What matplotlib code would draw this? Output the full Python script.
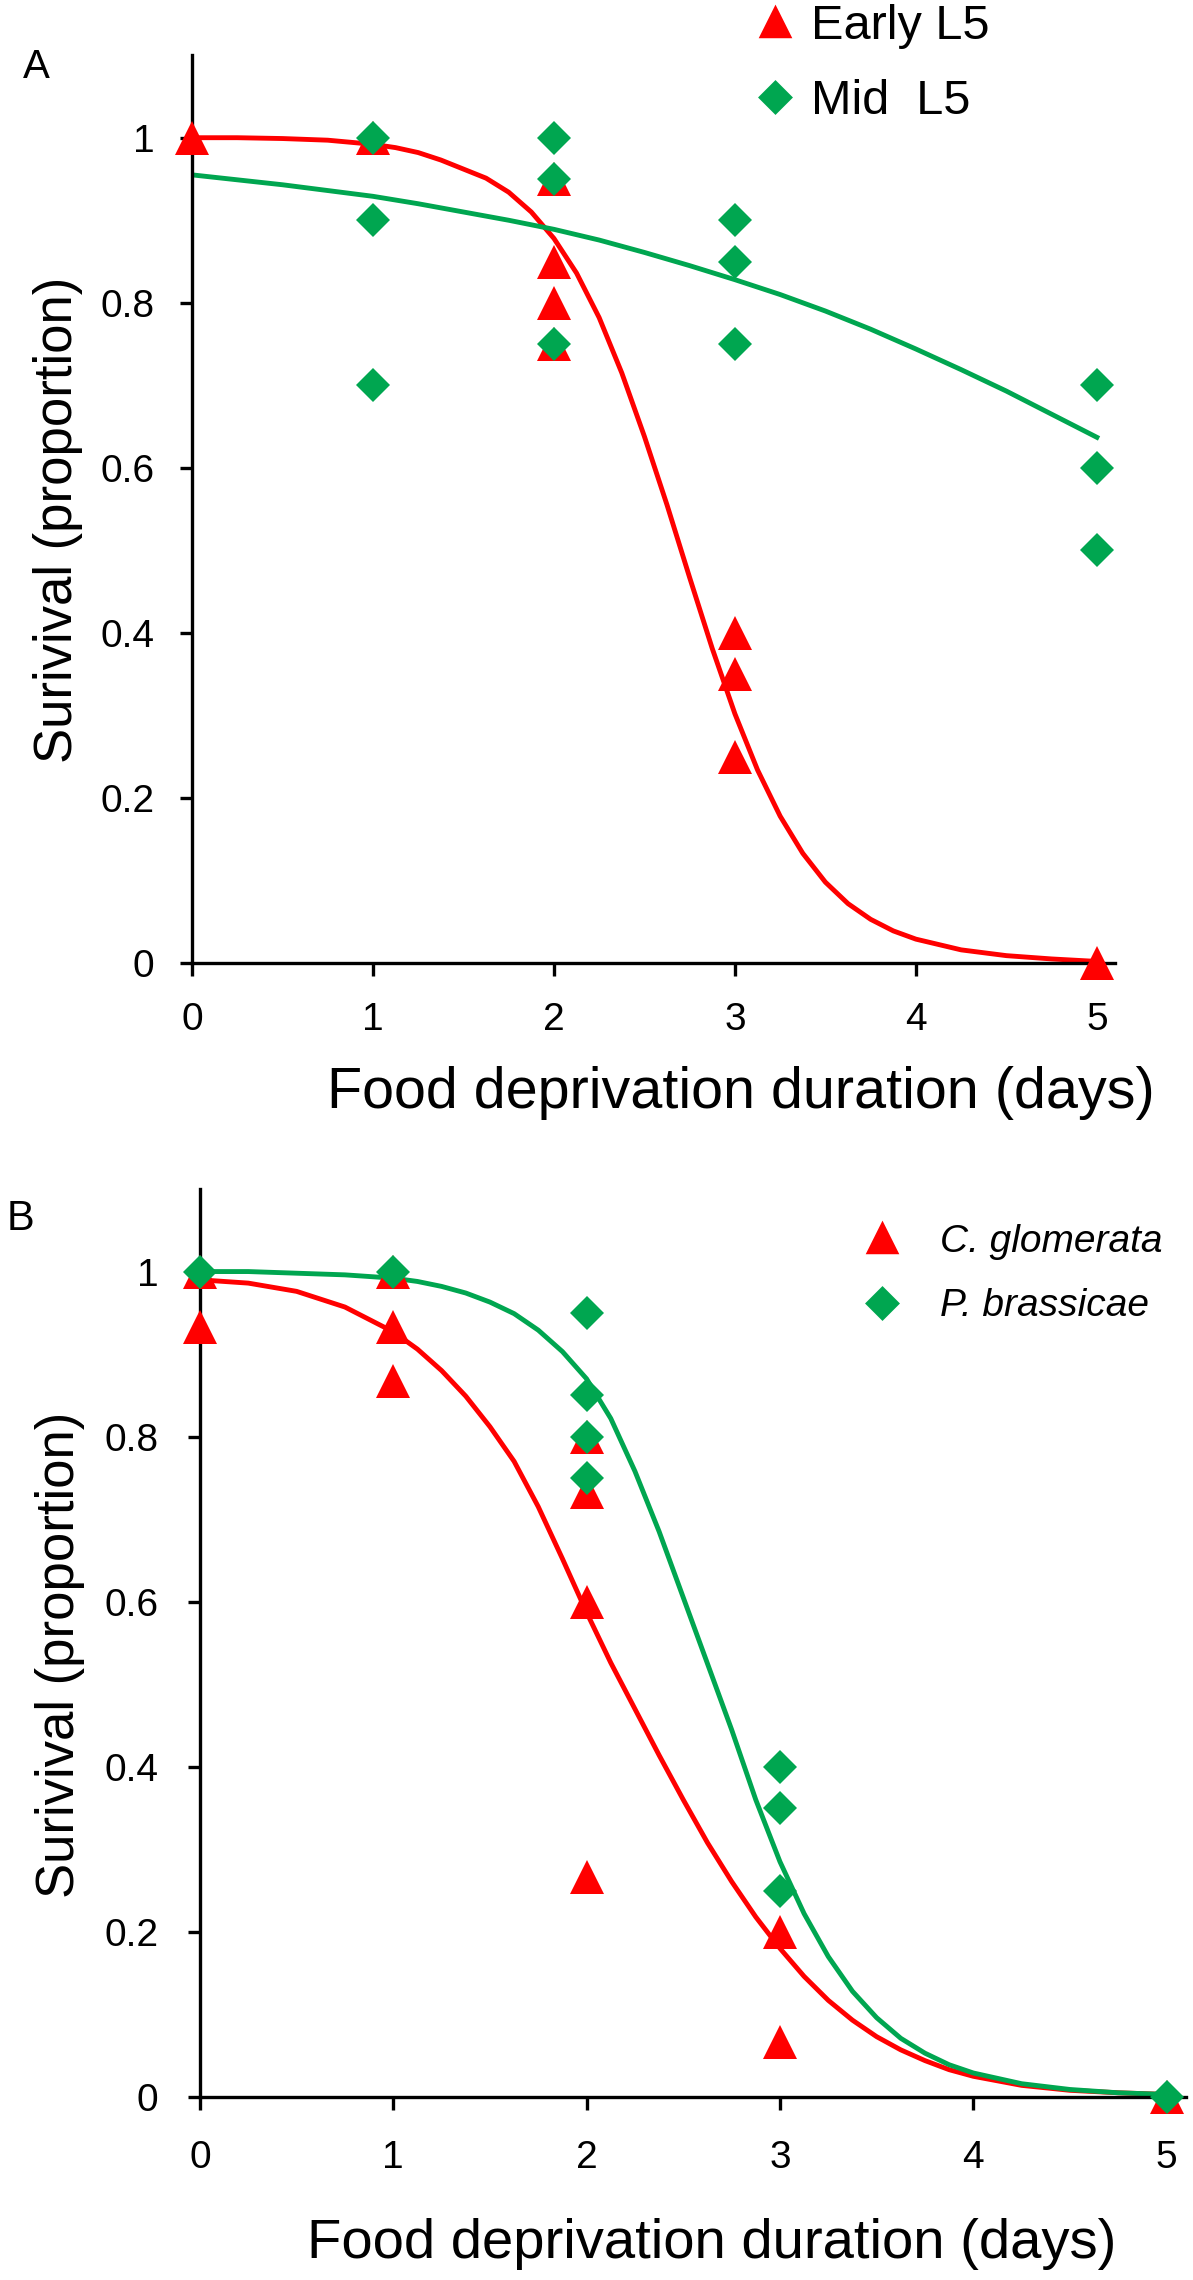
import matplotlib
matplotlib.use("Agg")
import matplotlib.pyplot as plt
from matplotlib.lines import Line2D

plt.rcParams['font.family'] = ['Liberation Sans', 'DejaVu Sans']

RED = '#ff0000'
GREEN = '#00a650'

# panel A: observed survival
early_x = [0, 1, 2, 2, 2, 2, 3, 3, 3, 5]
early_y = [1.0, 1.0, 0.95, 0.85, 0.80, 0.75, 0.40, 0.35, 0.25, 0.0]
mid_x = [1, 1, 1, 2, 2, 2, 3, 3, 3, 5, 5, 5]
mid_y = [1.0, 0.90, 0.70, 1.0, 0.95, 0.75, 0.90, 0.85, 0.75, 0.70, 0.60, 0.50]

# panel A: fitted curves
early_fit_x = [0, 0.25, 0.5, 0.75, 1.0, 1.125, 1.25, 1.375, 1.5, 1.625, 1.75, 1.875,
               2.0, 2.125, 2.25, 2.375, 2.5, 2.625, 2.75, 2.875, 3.0, 3.125, 3.25,
               3.375, 3.5, 3.625, 3.75, 3.875, 4.0, 4.25, 4.5, 4.75, 5.0]
early_fit = [1.0, 1.0, 0.999, 0.997, 0.992, 0.988, 0.982, 0.973, 0.962, 0.951, 0.934,
             0.91, 0.878, 0.836, 0.782, 0.715, 0.638, 0.555, 0.467, 0.381, 0.302,
             0.234, 0.178, 0.133, 0.098, 0.072, 0.053, 0.039, 0.029, 0.016, 0.009,
             0.005, 0.002]
mid_fit_x = [0, 0.25, 0.5, 0.75, 1.0, 1.25, 1.5, 1.75, 2.0, 2.25, 2.5,
             2.75, 3.0, 3.25, 3.5, 3.75, 4.0, 4.25, 4.5, 4.75, 5.0]
mid_fit = [0.955, 0.949, 0.943, 0.936, 0.929, 0.92, 0.91, 0.90, 0.889, 0.876, 0.861,
           0.845, 0.828, 0.81, 0.79, 0.768, 0.744, 0.719, 0.693, 0.665, 0.637]

# panel B: observed survival
cglom_x = [0, 0, 1, 1, 1, 2, 2, 2, 2, 3, 3, 5]
cglom_y = [1.0, 0.933, 1.0, 0.933, 0.867, 0.80, 0.733, 0.60, 0.267, 0.20, 0.067, 0.0]
pbras_x = [0, 1, 2, 2, 2, 2, 3, 3, 3, 5]
pbras_y = [1.0, 1.0, 0.95, 0.85, 0.80, 0.75, 0.40, 0.35, 0.25, 0.0]

# panel B: fitted curves
b_fit_x = [0, 0.25, 0.5, 0.75, 1.0, 1.125, 1.25, 1.375, 1.5, 1.625, 1.75,
           1.875, 2.0, 2.125, 2.25, 2.375, 2.5, 2.625, 2.75, 2.875, 3.0,
           3.125, 3.25, 3.375, 3.5, 3.625, 3.75, 3.875, 4.0, 4.25, 4.5, 4.75, 5.0]
cglom_fit = [0.99, 0.986, 0.976, 0.957, 0.927, 0.906, 0.88, 0.849, 0.812, 0.77, 0.715,
             0.652, 0.587, 0.526, 0.47, 0.414, 0.36, 0.308, 0.261, 0.218, 0.18,
             0.146, 0.117, 0.093, 0.073, 0.057, 0.044, 0.033, 0.025, 0.014, 0.008,
             0.005, 0.003]
pbras_fit = [1.0, 1.0, 0.998, 0.996, 0.992, 0.988, 0.982, 0.974, 0.963, 0.949, 0.929,
             0.903, 0.87, 0.822, 0.758, 0.685, 0.605, 0.525, 0.445, 0.36, 0.285,
             0.222, 0.17, 0.128, 0.096, 0.071, 0.053, 0.039, 0.029, 0.016, 0.009,
             0.005, 0.003]

x_ticks = [0, 1, 2, 3, 4, 5]
y_ticks = [0, 0.2, 0.4, 0.6, 0.8, 1.0]
y_labels = ['0', '0.2', '0.4', '0.6', '0.8', '1']

fig = plt.figure(figsize=(11.93, 22.8), dpi=100)
axA = fig.add_axes([0.1609, 0.5776, 0.7737, 0.3982])
axB = fig.add_axes([0.1676, 0.0803, 0.8265, 0.3982])


def style(ax, xlab_pos, ylab_pos, xsize, xpad, ypad):
    ax.set_xlim(0, 5.1)
    ax.set_ylim(0, 1.1)
    for s in ['top', 'right']:
        ax.spines[s].set_visible(False)
    for s in ['left', 'bottom']:
        ax.spines[s].set_linewidth(2.4)
    ax.set_xticks(x_ticks)
    ax.set_yticks(y_ticks)
    ax.set_yticklabels(y_labels)
    ax.tick_params(direction='out', length=9, width=2.4, labelsize=28)
    ax.tick_params(axis='x', pad=xpad)
    ax.tick_params(axis='y', pad=ypad)
    ax.set_xlabel('Food deprivation duration (days)', fontsize=xsize)
    ax.xaxis.label.set_va('baseline')
    ax.xaxis.set_label_coords(*xlab_pos)
    ax.set_ylabel('Surivival (proportion)', fontsize=38)
    ax.yaxis.label.set_va('center')
    ax.yaxis.set_label_coords(*ylab_pos)


# ---- panel A
axA.plot(early_fit_x, early_fit, color=RED, lw=3.5, zorder=2)
axA.plot(mid_fit_x, mid_fit, color=GREEN, lw=3.5, zorder=2)
axA.plot(early_x, early_y, ls='none', marker='^', ms=24, color=RED,
         mew=0, clip_on=False, zorder=3)
axA.plot(mid_x, mid_y, ls='none', marker='D', ms=17, color=GREEN,
         mew=0, clip_on=False, zorder=4)
style(axA, (0.595, -0.160), (-0.145, 0.488), 41.4, 19, 18)
fig.text(23 / 1193, 1 - 78 / 2280, 'A', fontsize=29, ha='left', va='baseline')

hA = [Line2D([], [], ls='none', marker='^', ms=20, color=RED, mew=2.5, mec=RED),
      Line2D([], [], ls='none', marker='D', ms=15, color=GREEN, mew=2.5, mec=GREEN)]
legA = axA.legend(hA, ['Early L5', 'Mid  L5'], loc='upper left',
                  bbox_to_anchor=(0.6334, 1 - 4 / 2280),
                  bbox_transform=fig.transFigure, frameon=False, fontsize=35,
                  borderpad=0, borderaxespad=0, handlelength=0.8,
                  handletextpad=0.34, labelspacing=0.62)

# ---- panel B
axB.plot(b_fit_x, cglom_fit, color=RED, lw=3.5, zorder=2)
axB.plot(b_fit_x, pbras_fit, color=GREEN, lw=3.5, zorder=2)
axB.plot(cglom_x, cglom_y, ls='none', marker='^', ms=24, color=RED,
         mew=0, clip_on=False, zorder=3)
axB.plot(pbras_x, pbras_y, ls='none', marker='D', ms=17, color=GREEN,
         mew=0, clip_on=False, zorder=4)
style(axB, (0.519, -0.177), (-0.142, 0.487), 40.5, 22, 21)
fig.text(7 / 1193, 1 - 1230 / 2280, 'B', fontsize=30, ha='left', va='baseline')

hB = [Line2D([], [], ls='none', marker='^', ms=20, color=RED, mew=2.5, mec=RED),
      Line2D([], [], ls='none', marker='D', ms=15, color=GREEN, mew=2.5, mec=GREEN)]
legB = axB.legend(hB, ['C. glomerata', 'P. brassicae'], loc='upper left',
                  bbox_to_anchor=(0.7230, 1 - 1224 / 2280),
                  bbox_transform=fig.transFigure, frameon=False,
                  prop={'size': 28, 'style': 'italic'},
                  borderpad=0, borderaxespad=0, handlelength=1.0,
                  handletextpad=0.99, labelspacing=0.73)

fig.savefig('out.png', dpi=100)
